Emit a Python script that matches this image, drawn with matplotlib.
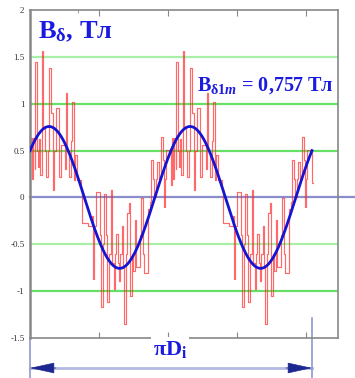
import numpy as np
import matplotlib
matplotlib.use("Agg")
import matplotlib.pyplot as plt
import matplotlib.transforms as mtransforms

plt.rcParams['mathtext.fontset'] = 'custom'
plt.rcParams['mathtext.rm'] = 'Liberation Serif:bold'
plt.rcParams['mathtext.it'] = 'Liberation Serif:italic:bold'
plt.rcParams['mathtext.bf'] = 'Liberation Serif:bold'

# ---- data ----
# position along the air gap (arbitrary units, one pole-pair period = 141)
period = 141.0
span_end = 282.0            # pi*Di
b1m = 0.757                 # amplitude of fundamental, T
phase = 0.72                # rad, fundamental phase at x = 0

# stepped air-gap flux density B_delta, period 1 (x, T)
red_x1 = [0.0, 0.5, 2.0, 3.0, 4.5, 5.0, 6.5, 7.5, 9.0, 10.0, 11.5, 13.0, 14.5, 16.0, 17.5,
          19.0, 20.5, 22.5, 24.0, 25.5, 29.0, 30.5, 34.5, 35.5, 37.0, 39.0, 40.5, 42.0, 43.5,
          45.0, 46.5, 50.5, 52.0, 58.0, 61.5, 62.5, 64.0, 65.5, 70.0, 71.0, 72.5, 74.0, 75.5,
          77.0, 78.5, 80.5, 82.0, 83.5, 85.0, 86.0, 87.5, 88.5, 90.0, 91.5, 93.0, 94.0, 95.5,
          97.0, 98.5, 100.0, 101.5, 103.0, 104.5, 106.0, 110.0, 111.0, 112.5, 114.0, 117.5,
          119.5, 121.0, 123.0, 124.0, 125.5, 127.0, 129.0, 130.5, 132.5, 133.5, 135.0, 136.0]
red_b1 = [0.50, 0.63, 0.20, 0.63, 0.30, 1.45, 0.50, 0.33, 0.62, 0.24, 1.56, 0.75, 0.50, 0.22, 0.50,
          1.38, 0.90, 0.08, 0.50, 0.95, 0.22, 0.56, 0.30, 1.11, 0.50, 0.22, 0.60, 1.02, 0.19,
          0.45, 0.19, 0.10, -0.27, -0.30, -0.20, -0.87, -0.30, 0.06, -0.40, -1.17, -0.50, 0.04, -0.40,
          -1.12, -0.60, 0.08, -0.70, -0.98, -0.60, -0.39, -0.70, -0.89, -0.60, -0.30, -0.75, -1.35, -0.60,
          -0.17, -0.06, -1.05, -0.60, -0.78, -0.24, -0.74, -0.40, -0.01, -0.60, -0.81, -0.12,
          -0.05, 0.40, 0.20, 0.00, 0.20, 0.38, 0.20, 0.65, 0.40, -0.10, 0.20, 0.51]
# period 2 (x, T)
red_x2 = [141.0, 141.5, 143.0, 144.0, 145.5, 146.0, 147.5, 148.5, 150.0, 151.0, 152.5, 154.0, 155.5, 157.0, 158.5,
          160.0, 161.5, 163.5, 165.0, 166.5, 170.0, 171.5, 175.5, 176.5, 178.0, 180.0, 181.5, 183.0, 184.5,
          186.0, 187.5, 191.5, 193.0, 199.0, 202.5, 203.5, 205.0, 206.5, 211.0, 212.0, 213.5, 215.0, 216.5,
          218.0, 219.5, 221.5, 223.0, 224.5, 226.0, 227.0, 228.5, 229.5, 231.0, 232.5, 234.0, 235.0, 236.5,
          238.0, 239.5, 241.0, 242.5, 244.0, 245.5, 247.0, 251.0, 252.0, 253.5, 255.0, 258.5,
          260.5, 262.0, 264.0, 265.0, 266.5, 268.0, 270.0, 271.5, 273.5, 274.5, 276.0, 277.0, 282.0, 283.0]
red_b2 = [0.13, 0.63, 0.20, 0.63, 0.30, 1.45, 0.50, 0.33, 0.62, 0.24, 1.56, 0.75, 0.50, 0.22, 0.50,
          1.38, 0.90, 0.08, 0.50, 0.95, 0.22, 0.56, 0.30, 1.11, 0.50, 0.22, 0.60, 1.02, 0.19,
          0.45, 0.19, 0.10, -0.27, -0.30, -0.20, -0.87, -0.30, 0.06, -0.40, -1.17, -0.50, 0.04, -0.40,
          -1.12, -0.60, 0.08, -0.70, -0.98, -0.60, -0.39, -0.70, -0.89, -0.60, -0.30, -0.75, -1.35, -0.60,
          -0.17, -0.06, -1.05, -0.60, -0.78, -0.24, -0.74, -0.40, -0.01, -0.60, -0.81, -0.12,
          -0.05, 0.40, 0.20, 0.00, 0.20, 0.38, 0.20, 0.65, 0.40, -0.10, 0.20, 0.51, 0.15, 0.15]

grid_levels = [1.5, 1.0, 0.5, -0.5, -1.0]
grid_colors = ['#a8f0a8', '#66e066', '#66e066', '#a8f0a8', '#66e066']
yticks = [2, 1.5, 1, 0.5, 0, -0.5, -1, -1.5]
ytick_labels = ['2', '1.5', '1', '0.5', '0', '-0.5', '-1', '-1.5']
xticks = [69, 138, 207, 276]

# ---- figure ----
fig = plt.figure(figsize=(3.55, 3.78), dpi=100)
ax = fig.add_axes([30 / 355, 40 / 378, 308 / 355, 328 / 378])
ax.set_xlim(0, 308)
ax.set_ylim(-1.5, 2.0)

for lev, c in zip(grid_levels, grid_colors):
    ax.axhline(lev, color=c, lw=1.6, zorder=1)
ax.plot([0, 1.055], [0, 0], transform=ax.get_yaxis_transform(), color='#8a8ccc',
        lw=1.6, clip_on=False, zorder=1)

red_x = red_x1 + red_x2
red_b = red_b1 + red_b2
ax.step(red_x, red_b, where='post', color='#ff2a2a', lw=0.85, alpha=0.7, zorder=2)

xs = np.linspace(0, span_end, 600)
ax.plot(xs, b1m * np.sin(2 * np.pi * xs / period + phase), color='#1414d2', lw=2.0, zorder=3)

for s in ax.spines.values():
    s.set_color('#888888')
    s.set_linewidth(1.2)
ax.spines['left'].set_linewidth(1.8)
ax.set_yticks(yticks)
ax.set_yticklabels(ytick_labels, family='Liberation Serif', fontsize=6.5, color='#333333')
ax.tick_params(axis='y', length=0, pad=4)
ax.set_xticks(xticks)
ax.set_xticklabels([])
ax.tick_params(axis='x', direction='in', length=4, color='#888888', top=True, bottom=True)
ax.set_xticks([48], minor=True)
ax.tick_params(axis='x', which='minor', direction='in', length=2.5, color='#888888',
               top=True, bottom=False)

blue_txt = '#1a1ae0'
font = dict(family='Liberation Serif', weight='bold', color=blue_txt)
ax.text(8, 1.70, r'B$_{\mathrm{δ}}$, Тл', fontsize=19, va='baseline', zorder=5, **font)
ax.text(167, 1.135, r'B$_{\mathrm{δ1}m}$ = 0,757 Тл', fontsize=14.5, va='baseline',
        zorder=5, **font)

# pi*Di dimension
bt = mtransforms.blended_transform_factory(ax.transData, fig.transFigure)
ax.text(140, 1 - 355 / 378, r'πD$_{\mathrm{i}}$', transform=bt, fontsize=16, ha='center',
        va='baseline', bbox=dict(facecolor='white', edgecolor='none', pad=1.5), zorder=6,
        clip_on=False, **font)

ya = 1 - 368 / 378
ax.plot([0, span_end], [ya, ya], transform=bt, color='#b4b8e4', lw=2.0, clip_on=False)
ax.plot([0, 0], [1 - 340 / 378, 0], transform=bt, color='#9098cc', lw=1.2, clip_on=False)
ax.plot([span_end, span_end], [1 - 318 / 378, 0], transform=bt, color='#9098cc', lw=1.2, clip_on=False)
for tip, tail in [(0, 26), (span_end, span_end - 26)]:
    ax.annotate('', xy=(tip, ya), xytext=(tail, ya), xycoords=bt, textcoords=bt,
                arrowprops=dict(arrowstyle='-|>,head_length=1.6,head_width=0.35', color='#1c2890',
                                lw=0.5, shrinkA=0, shrinkB=0), annotation_clip=False)

fig.savefig('out.png', dpi=100)
